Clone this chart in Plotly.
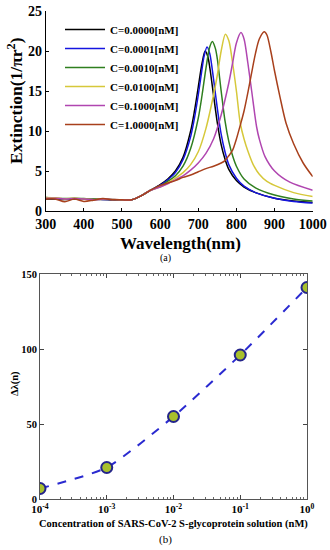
import plotly.graph_objects as go

# ---------------- data: panel (a) extinction spectra ----------------
wl_low = [300, 325, 350, 375, 400, 425, 450, 475, 500, 525, 550, 575, 600]

wl_c0 = wl_low + [620, 640, 660, 680, 690, 700, 710, 718, 725, 730, 740, 750, 760, 770, 780, 800, 820, 850, 900, 950, 1000]
ext_c0 = [1.5, 1.5, 1.45, 1.5, 1.5, 1.45, 1.45, 1.4, 1.35, 1.4, 1.9, 2.6, 3.3,
          4.0, 5.0, 6.7, 10.0, 12.5, 15.5, 18.5, 20.0, 19.3, 18.0, 14.5, 11.0, 8.3, 6.5, 5.2, 3.8, 3.0, 2.3, 1.6, 1.25, 1.05]

wl_c1 = wl_low + [620, 640, 660, 680, 690, 700, 710, 715, 723, 730, 740, 750, 760, 770, 780, 800, 820, 850, 900, 950, 1000]
ext_c1 = [1.6, 1.55, 1.5, 1.5, 1.5, 1.5, 1.45, 1.4, 1.35, 1.4, 1.9, 2.6, 3.2,
          3.9, 4.8, 6.4, 9.3, 11.6, 14.5, 17.8, 19.3, 20.5, 19.7, 16.5, 12.8, 9.6, 7.4, 5.8, 4.1, 3.1, 2.3, 1.6, 1.2, 1.0]

wl_c2 = wl_low + [620, 640, 660, 680, 700, 710, 720, 730, 737, 745, 750, 760, 770, 780, 790, 800, 820, 850, 900, 950, 1000]
ext_c2 = [1.7, 1.6, 1.55, 1.6, 1.55, 1.5, 1.5, 1.45, 1.35, 1.4, 1.9, 2.6, 3.1,
          3.7, 4.4, 5.6, 7.8, 11.6, 14.5, 17.8, 20.5, 21.2, 20.3, 19.0, 15.0, 11.3, 8.7, 6.9, 5.6, 4.0, 2.9, 2.0, 1.5, 1.25]

wl_c3 = wl_low + [620, 640, 660, 680, 700, 720, 740, 750, 760, 771, 780, 790, 800, 810, 820, 830, 844, 860, 880, 900, 950, 1000]
ext_c3 = [1.7, 1.65, 1.5, 1.6, 1.5, 1.45, 1.5, 1.45, 1.4, 1.4, 1.9, 2.6, 3.0,
          3.5, 4.1, 4.8, 5.8, 7.4, 10.3, 14.5, 17.0, 20.0, 22.1, 21.3, 18.5, 15.0, 11.0, 9.0, 7.5, 5.8, 4.6, 3.7, 3.2, 2.3, 1.8]

wl_c4 = wl_low + [620, 640, 660, 680, 700, 720, 740, 760, 780, 790, 800, 812, 820, 830, 840, 853, 860, 875, 900, 940, 1000]
ext_c4 = [1.6, 1.6, 1.5, 1.55, 1.5, 1.4, 1.5, 1.45, 1.4, 1.4, 1.9, 2.6, 3.0,
          3.4, 3.9, 4.4, 5.1, 6.0, 7.2, 9.0, 12.0, 16.0, 18.5, 21.0, 22.3, 21.5, 18.5, 15.0, 10.5, 9.0, 6.8, 5.0, 3.6, 2.6]

wl_c5 = wl_low + [620, 640, 660, 680, 700, 720, 740, 760, 770, 780, 790, 800, 810, 820, 830, 840, 850, 860, 873, 880, 890, 900, 914, 930, 950, 975, 1000]
ext_c5 = [1.5, 1.5, 1.15, 1.5, 1.2, 1.35, 1.55, 1.4, 1.4, 1.4, 1.9, 2.6, 3.2,
          3.5, 3.8, 4.2, 4.5, 4.9, 5.3, 5.6, 6.0, 6.3, 6.9, 7.6, 9.0, 10.7, 12.5, 14.8, 17.3, 19.7, 21.5, 22.4, 22.0, 20.0, 17.5, 14.3, 11.0, 8.4, 6.0, 4.3]

series_names = ["C=0.0000[nM]", "C=0.0001[nM]", "C=0.0010[nM]",
                "C=0.0100[nM]", "C=0.1000[nM]", "C=1.0000[nM]"]
series_wl = [wl_c0, wl_c1, wl_c2, wl_c3, wl_c4, wl_c5]
series_ext = [ext_c0, ext_c1, ext_c2, ext_c3, ext_c4, ext_c5]
series_colors = ["#000000", "#1515e0", "#2f7f1f", "#d6c83a", "#b046b0", "#a8401c"]

wl_ticks = [300, 400, 500, 600, 700, 800, 900, 1000]
ext_ticks = [0, 5, 10, 15, 20, 25]

# ---------------- data: panel (b) peak shift ----------------
conc = [1e-4, 1e-3, 1e-2, 1e-1, 1e0]
shift = [7, 21, 55, 96, 141]
conc_ticks = [1e-4, 1e-3, 1e-2, 1e-1, 1e0]
conc_ticktext = ["10<sup>-4</sup>", "10<sup>-3</sup>", "10<sup>-2</sup>", "10<sup>-1</sup>", "10<sup>0</sup>"]
shift_ticks = [0, 50, 100, 150]
minor_conc_ticks = [d * 10.0 ** e for e in (-4, -3, -2, -1) for d in range(2, 10)]

FONT = "Liberation Serif, Times New Roman, serif"
W, H = 330, 550

def px_x(a, b):
    return [a / W, b / W]

def px_y(top, bottom):
    return [1 - bottom / H, 1 - top / H]

def bold(size):
    return dict(family=FONT, size=size, weight="bold", color="black")

def label(text, x, y, font, angle=0):
    return dict(text=text, x=x / W, y=1 - y / H, xref="paper", yref="paper",
                xanchor="center", yanchor="middle", textangle=angle,
                showarrow=False, font=font)

fig = go.Figure()

for name, wl, ext, col in zip(series_names, series_wl, series_ext, series_colors):
    fig.add_trace(go.Scatter(x=wl, y=ext, mode="lines", name=name,
                             line=dict(color=col, width=1.5, shape="spline", smoothing=0.8),
                             xaxis="x", yaxis="y"))

fig.add_trace(go.Scatter(x=conc, y=shift, mode="lines+markers", showlegend=False,
                         line=dict(color="#2a2ad0", width=2, dash="dash", shape="spline", smoothing=0.6),
                         marker=dict(size=11, color="#a8c02c", line=dict(color="#24248a", width=2)),
                         xaxis="x2", yaxis="y2"))

common = dict(showgrid=False, zeroline=False, automargin=False)

fig.update_layout(
    width=W, height=H,
    margin=dict(l=0, r=0, t=0, b=0),
    paper_bgcolor="white", plot_bgcolor="white",
    font=dict(family=FONT, color="black", weight="bold"),
    showlegend=True,
    legend=dict(x=60 / W, y=1 - 15 / H, xanchor="left", yanchor="top",
                bgcolor="rgba(0,0,0,0)", borderwidth=0,
                font=bold(11), itemwidth=40, tracegroupgap=0),
    xaxis=dict(domain=px_x(45.7, 312.7), anchor="y", range=[300, 1000],
               tickvals=wl_ticks,
               showline=True, linecolor="black", linewidth=1, mirror=False,
               ticks="inside", ticklen=3, tickcolor="black",
               tickfont=bold(14), **common),
    yaxis=dict(domain=px_y(11, 211), anchor="x", range=[0, 25],
               tickvals=ext_ticks,
               showline=True, linecolor="black", linewidth=1, mirror=False,
               ticks="inside", ticklen=3, tickcolor="black",
               tickfont=bold(14), **common),
    xaxis2=dict(domain=px_x(40, 307), anchor="y2", type="log", range=[-4, 0],
                tickvals=conc_ticks, ticktext=conc_ticktext,
                showline=True, linecolor="#555", linewidth=1, mirror="ticks",
                ticks="inside", ticklen=4, tickcolor="#444", tickwidth=1,
                minor=dict(tickvals=minor_conc_ticks, ticks="inside", ticklen=2,
                           tickcolor="#666", tickwidth=0.8, showgrid=False),
                tickfont=bold(11), **common),
    yaxis2=dict(domain=px_y(274, 499), anchor="x2", range=[0, 150],
                tickvals=shift_ticks,
                showline=True, linecolor="#555", linewidth=1, mirror="ticks",
                ticks="inside", ticklen=4, tickcolor="#444", tickwidth=1,
                tickfont=bold(10.5), **common),
    annotations=[
        label("Extinction(1/πr<sup>2</sup>)", 15, 101, bold(17.5), -90),
        label("Wavelength(nm)", 180, 244, bold(17)),
        label("(a)", 165, 258, dict(size=10, family=FONT, weight="normal", color="black")),
        label("Δλ(n)", 15, 384, bold(10.5), -90),
        label("Concentration of SARS-CoV-2 S-glycoprotein solution (nM)", 174, 524, bold(10.5)),
        label("(b)", 165, 539, dict(size=11, family=FONT, weight="normal", color="black")),
    ],
)

fig.write_html("out.html",
               config={"displayModeBar": False},
               post_script="document.body.style.margin='0';document.body.style.padding='0';document.body.style.overflow='hidden';")
